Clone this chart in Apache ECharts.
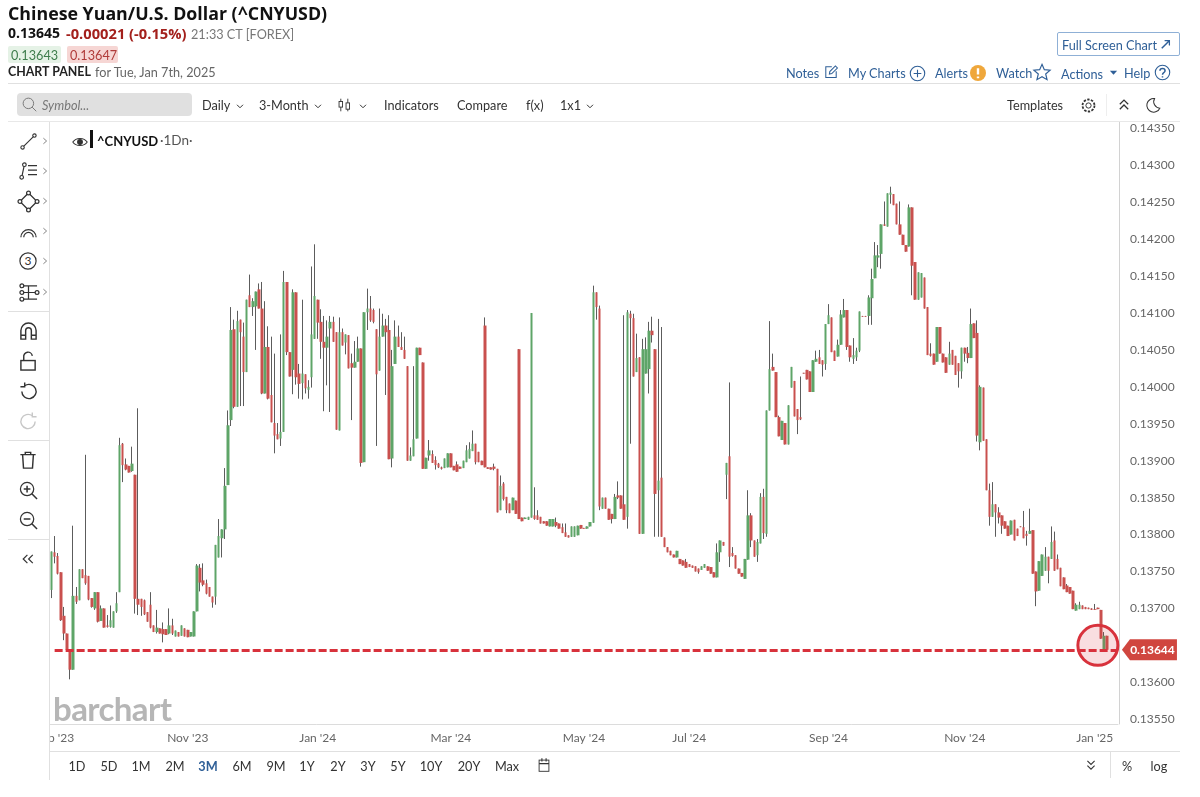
<!DOCTYPE html>
<html>
<head>
<meta charset="utf-8">
<title>Chinese Yuan/U.S. Dollar</title>
<script src="https://cdn.jsdelivr.net/npm/echarts@6/dist/echarts.min.js"></script>
<style>
  html, body { margin: 0; padding: 0; background: #fff; }
  #page { position: relative; width: 1200px; height: 797px; overflow: hidden; font-family: Lato, sans-serif; color: #333; }
  #chart { position: absolute; left: 0; top: 0; width: 1200px; height: 797px; }
  .t { position: absolute; white-space: nowrap; line-height: 1; transform: translateY(-50%); font-size: 12.7px; }
  .c { transform: translate(-50%, -50%); }
  .rule { position: absolute; background: #e0e0e0; }
  svg.i { position: absolute; overflow: visible; fill: none; stroke: #333; stroke-width: 1.3; }
</style>
</head>
<body>
<div id="page">
  <div id="chart"></div>
  <div id="chrome"></div>
</div>
<script>
'use strict';

// prices are in 1/100000 of a dollar, each row is [open, close, low, high]
var sepOct23 = [
  [13725,13777,13714,13777],[13776,13770,13761,13798],[13771,13747,13746,13775],[13749,13684,13683,13749],
  [13690,13666,13657,13702],[13666,13644,13644,13666],[13643,13617,13604,13643],[13617,13717,13617,13812],
  [13717,13709,13706,13729],[13711,13753,13711,13753],[13753,13741,13741,13753],[13745,13734,13732,13908],
  [13744,13712,13711,13744],[13714,13702,13701,13714],[13700,13722,13698,13722],[13722,13682,13681,13722],
  [13683,13700,13683,13704],[13700,13674,13674,13700],[13677,13675,13674,13691],[13675,13684,13674,13704],
  [13674,13696,13674,13696],[13696,13707,13694,13722],[13722,13921,13722,13931],[13923,13894,13871,13924],
  [13895,13888,13887,13903],[13893,13884,13884,13893],[13886,13896,13885,13919],[13881,13713,13693,13881],
  [13713,13705,13691,13971],[13713,13702,13690,13713],[13711,13692,13691,13712],[13695,13682,13682,13695],
  [13705,13674,13673,13722],[13677,13668,13668,13677],[13668,13674,13666,13698],[13673,13666,13666,13673],
  [13672,13665,13654,13681],[13672,13664,13664,13672],[13666,13677,13665,13700],[13677,13666,13664,13686],
  [13662,13670,13662,13670],[13668,13662,13662,13668],[13663,13677,13663,13677],[13673,13662,13662,13673]
];
var novDec23 = [
  [13671,13661,13661,13671],[13662,13668,13662,13668],[13662,13696,13662,13696],[13696,13758,13696,13760],
  [13755,13735,13723,13760],[13738,13732,13730,13761],[13734,13720,13719,13739],[13729,13716,13716,13729],
  [13716,13708,13701,13716],[13716,13786,13705,13786],[13769,13798,13769,13821],[13795,13807,13769,13807],
  [13807,13866,13794,13890],[13867,13948,13867,13968],[13955,14077,13947,14108],[14078,13973,13971,14091],
  [13973,14089,13973,14103],[14091,14074,13974,14091],[14068,14020,13974,14087],[14020,14118,14020,14118],
  [14124,14108,14108,14152],[14108,14116,14096,14120],[14109,14129,14050,14129],[14132,14106,14106,14140],
  [14106,13991,13990,14142],[13991,14054,13991,14116],[14054,13984,13983,14082],[13989,13952,13952,14068],
  [13951,13934,13910,14045],[13936,13929,13929,13951],[13930,13939,13920,14071],[13939,14142,13939,14157],
  [14142,14047,14043,14142],[14047,14014,14014,14047],[14023,14128,13990,14132],[14128,14013,14003,14128],
  [14018,14004,13984,14031],[14005,14018,13983,14118],[14017,13998,13991,14017],[13996,14000,13984,14009],
  [14013,14071,13999,14163],[14065,14123,14065,14193]
];
var janFeb24 = [
  [14118,14087,14065,14118],[14088,14061,14038,14105],[14061,14053,13967,14096],[14053,14068,14002,14090],
  [14079,14088,13966,14096],[14088,14061,14061,14095],[14074,13942,13942,14074],[13941,14074,13941,14094],
  [14074,14056,14056,14079],[14060,14071,14044,14071],[14070,14025,14025,14070],[14032,14026,13955,14045],
  [14026,14034,14026,14062],[14034,14052,14034,14068],[14052,13897,13892,14052],[13898,14101,13898,14101],
  [14101,14106,14077,14133],[14106,14090,14088,14123],[14104,14088,14086,14106],[14078,14017,13920,14078],
  [14022,14068,14022,14106],[14068,14083,14068,14099],[14083,14074,13989,14092],[14077,13902,13902,14097],
  [13903,14028,13891,14050],[14031,14068,14031,14090],[14068,14054,14054,14083],[14054,14050,14050,14074],
  [14050,14038,14038,14068],[14028,13900,13900,14028],[13900,13907,13900,13918],[13906,13929,13906,14028],
  [13930,14053,13930,14053],[14053,14043,14043,14053],[14033,13889,13889,14033],[13889,13904,13889,13904],
  [13907,13914,13900,13928],[13909,13897,13897,13914],[13901,13894,13888,13906],[13896,13891,13890,13897],
  [13891,13889,13888,13892],[13890,13903,13890,13903],[13891,13910,13891,13910]
];
var marApr24 = [
  [13910,13891,13891,13910],[13893,13887,13887,13893],[13895,13885,13885,13899],[13892,13889,13889,13892],
  [13890,13900,13890,13900],[13898,13914,13898,13921],[13903,13916,13903,13925],[13913,13923,13913,13941],
  [13923,13898,13895,13923],[13912,13898,13898,13912],[13900,13894,13894,13900],[14083,13891,13891,14094],
  [13891,13889,13889,13891],[13891,13888,13888,13891],[13892,13889,13887,13896],[13889,13830,13830,13889],
  [13833,13866,13833,13880],[13869,13848,13846,13871],[13851,13833,13829,13851],[13842,13829,13829,13842],
  [13833,13850,13833,13850],[13846,13828,13828,13846],[14051,13821,13821,14051],[13823,13818,13818,13823],
  [13821,13823,13821,13823],[13820,13824,13820,13824],[13823,14100,13823,14100],[13826,13821,13820,13864],
  [13826,13820,13820,13833],[13824,13815,13815,13824],[13818,13815,13815,13818],[13818,13812,13812,13818],
  [13811,13821,13811,13821],[13811,13821,13811,13821],[13817,13812,13810,13823],[13815,13808,13808,13815],
  [13810,13802,13802,13815],[13803,13797,13797,13815],[13799,13796,13796,13799],[13797,13811,13797,13811],
  [13797,13811,13797,13811],[13799,13812,13799,13812],[13813,13808,13808,13813]
];
var mayJun24 = [
  [13809,13808,13808,13809],[13808,13811,13808,13811],[13811,13817,13811,13817],[13816,14128,13816,14137],
  [14128,14108,14091,14128],[14106,13838,13833,14110],[13835,13850,13835,13850],[13850,13835,13835,13850],
  [13835,13820,13820,13835],[13828,13821,13815,13828],[13821,13851,13821,13855],[13853,13850,13848,13872],
  [13853,13835,13835,13853],[13841,13820,13820,14097],[13824,14101,13808,14104],[14099,14093,13923,14103],
  [14093,14014,14014,14099],[14020,14039,14020,14072],[14040,13801,13801,14040],[13801,14051,13801,14065],
  [14018,14051,14018,14067],[14024,14076,13991,14088],[14076,14070,14060,14095],[14051,13855,13797,14051],
  [13860,13873,13797,14092],[13877,13797,13797,14081],[13796,13783,13783,13796],[13783,13776,13776,13783],
  [13778,13772,13772,13778],[13773,13769,13769,13773],[13769,13778,13769,13778],[13767,13760,13760,13767],
  [13765,13758,13758,13765],[13763,13755,13755,13767]
];
var julAug24 = [
  [13760,13756,13756,13760],[13758,13755,13755,13758],[13757,13750,13750,13757],[13754,13749,13747,13754],
  [13752,13757,13752,13757],[13755,13760,13755,13760],[13757,13751,13751,13757],[13756,13747,13747,13756],
  [13749,13742,13742,13749],[13742,13776,13742,13788],[13776,13792,13763,13792],[13790,13785,13785,13790],
  [13881,13897,13848,13897],[13906,13770,13756,14006],[13775,13771,13770,13783],[13772,13754,13754,13772],
  [13754,13747,13747,13754],[13748,13743,13743,13748],[13740,13767,13740,13767],[13766,13826,13766,13860],
  [13826,13792,13783,13829],[13792,13770,13770,13792],[13772,13790,13763,13794],[13788,13851,13788,13856],
  [13851,13802,13794,13862],[13801,13968,13797,13968],[13968,14024,13968,14089],[14027,14022,14022,14045],
  [14020,13959,13959,14020],[13959,13933,13933,13961],[13928,13954,13928,13954],[13951,13922,13922,13951],
  [13922,13975,13922,13975],[13999,14027,13999,14027],[14008,13960,13960,14008],[13970,13955,13936,13970],
  [13959,13956,13955,14014],[14019,14018,14018,14019],[14023,14010,14010,14023],[14021,13993,13993,14021],
  [13993,14036,13993,14036],[14034,14038,14034,14049],[14040,14031,14031,14050],[14036,14030,14014,14036],
  [14031,14085,14023,14085]
];
var sepOct24 = [
  [14085,14097,14085,14112],[14094,14047,14047,14094],[14049,14035,14035,14049],[14041,14057,14041,14064],
  [14057,14098,14057,14104],[14094,14104,14094,14119],[14104,14054,14050,14104],[14056,14040,14034,14056],
  [14038,14043,14031,14066],[14040,14049,14035,14053],[14049,14102,14047,14102],[14096,14095,14095,14096],
  [14096,14095,14095,14096],[14096,14121,14084,14124],[14120,14146,14084,14160],[14147,14178,14147,14196],
  [14175,14178,14162,14192],[14180,14220,14160,14220],[14220,14218,14218,14251],[14217,14262,14217,14262],
  [14260,14263,14248,14271],[14261,14246,14246,14261],[14248,14220,14220,14248],[14220,14206,14206,14251],
  [14206,14192,14192,14206],[14192,14183,14183,14192],[14190,14243,14190,14247],[14243,14164,14124,14243],
  [14169,14118,14118,14169],[14118,14155,14118,14155],[14121,14154,14121,14154],[14148,14106,14106,14148],
  [14108,14043,14043,14108],[14045,14042,14041,14059],[14045,14030,14030,14045],[14034,14081,14034,14081],
  [14081,14045,14045,14081],[14045,14033,14033,14045],[14040,14019,14019,14040],[14030,14045,14030,14061],
  [14050,14030,14030,14050],[14042,14016,14016,14042],[14032,14021,13999,14032],[14021,14053,14011,14053]
];
var novDec24 = [
  [14053,14045,14034,14053],[14046,14039,14032,14054],[14039,14085,14039,14106],[14086,14066,14066,14086],
  [14073,13934,13926,14090],[13925,14000,13914,14002],[13999,13927,13927,13999],[13929,13860,13860,13929],
  [13860,13824,13812,13869],[13824,13841,13824,13871],[13841,13830,13797,13841],[13830,13823,13815,13837],
  [13826,13812,13801,13826],[13818,13808,13808,13818],[13812,13798,13798,13812],[13800,13819,13800,13819],
  [13820,13792,13792,13820],[13808,13798,13798,13808],[13811,13810,13810,13811],[13810,13795,13795,13832],
  [13801,13798,13785,13805],[13801,13805,13801,13835],[13806,13747,13747,13806],[13750,13723,13703,13750],
  [13724,13764,13724,13764],[13744,13773,13744,13773],[13751,13770,13751,13783],[13770,13751,13734,13770],
  [13767,13790,13767,13811],[13792,13751,13751,13804],[13767,13753,13753,13773],[13755,13730,13730,13755],
  [13742,13726,13726,13742],[13731,13722,13722,13733],[13729,13720,13720,13729],[13724,13699,13699,13724],
  [13697,13705,13697,13707],[13699,13705,13699,13709],[13704,13699,13699,13704],[13702,13699,13699,13702],
  [13701,13699,13699,13701],[13700,13698,13698,13700]
];
var jan25 = [
  [13699,13698,13698,13706],[13701,13699,13699,13701],[13698,13659,13659,13698],[13641,13663,13641,13668],
  [13663,13644,13641,13663]
];

var tickLabels = ["Sep '23", "Nov '23", "Jan '24", "Mar '24", "May '24", "Jul '24", "Sep '24", "Nov '24", "Jan '25"];
var tickBars = [1, 44, 86, 129, 172, 206, 251, 295, 337];
var priceTicks = [0.1355, 0.136, 0.1365, 0.137, 0.1375, 0.138, 0.1385, 0.139, 0.1395, 0.14, 0.1405, 0.141, 0.1415, 0.142, 0.1425, 0.143, 0.1435];
var lastPrice = 0.13644;
var rangeButtons = ['1D', '5D', '1M', '2M', '3M', '6M', '9M', '1Y', '2Y', '3Y', '5Y', '10Y', '20Y', 'Max'];

var candles = sepOct23.concat(novDec23, janFeb24, marApr24, mayJun24, julAug24, sepOct24, novDec24, jan25);
var emptyBars = 3;

var categories = [];
for (var i = 0; i < candles.length + emptyBars; i++) {
  var at = tickBars.indexOf(i);
  categories.push(at >= 0 ? tickLabels[at] : '');
}

function toPrice(v) { return v / 100000; }

// wicks and bodies are two series because the wick is grey on every candle
var wicks = candles.map(function (r) {
  return [toPrice(r[0]), toPrice(r[1]), toPrice(r[2]), toPrice(r[3])];
});
var bodies = candles.map(function (r) {
  var lo = Math.min(r[0], r[1]), hi = Math.max(r[0], r[1]);
  return [toPrice(r[0]), toPrice(r[1]), toPrice(lo), toPrice(hi)];
});

var GREEN = '#5ea568', RED = '#c9504e', LINE_RED = '#d8323c';

var myChart = echarts.init(document.getElementById('chart'));
myChart.setOption({
  animation: false,
  textStyle: { fontFamily: 'Lato' },
  grid: { left: 50, right: 82, top: 122, bottom: 73 },
  xAxis: {
    type: 'category',
    data: categories,
    boundaryGap: true,
    axisLine: { lineStyle: { color: '#dcdcdc' } },
    axisTick: {
      length: 5,
      alignWithLabel: true,
      lineStyle: { color: '#cfcfcf' },
      interval: function (idx) { return tickBars.indexOf(idx) >= 0; }
    },
    axisLabel: {
      color: '#666',
      fontSize: 12,
      margin: 8,
      hideOverlap: false,
      interval: function (idx) { return tickBars.indexOf(idx) >= 0; }
    },
    splitLine: { show: false }
  },
  yAxis: {
    type: 'value',
    position: 'right',
    offset: 1,
    scale: true,
    min: 0.135435,
    max: 0.143586,
    axisLine: { show: true, lineStyle: { color: '#d2d2d2', width: 1 } },
    axisTick: { show: false },
    splitLine: { show: false },
    axisLabel: {
      customValues: priceTicks,
      color: '#666',
      fontSize: 12,
      margin: 11,
      formatter: function (v) { return v.toFixed(5); }
    }
  },
  series: [{
    name: 'wick',
    type: 'candlestick',
    data: wicks,
    barWidth: 1,
    itemStyle: { color: '#5c5c5c', color0: '#5c5c5c', borderColor: '#5c5c5c', borderColor0: '#5c5c5c', borderWidth: 1 },
    z: 2
  }, {
    name: '^CNYUSD',
    type: 'candlestick',
    data: bodies,
    barWidth: 3,
    itemStyle: { color: GREEN, color0: RED, borderColor: GREEN, borderColor0: RED, borderWidth: 0 },
    z: 3,
    markLine: {
      silent: true,
      symbol: 'none',
      label: { show: false },
      lineStyle: { color: LINE_RED, width: 3, type: [8, 3] },
      data: [[{ coord: [1, lastPrice] }, { coord: [categories.length - 1, lastPrice] }]],
      z: 4
    },
    markPoint: {
      silent: true,
      data: [{
        coord: [338, 0.1365],
        symbol: 'circle',
        symbolSize: 40,
        itemStyle: { color: 'rgba(216,50,60,0.16)', borderColor: '#d8323c', borderWidth: 3 },
        label: { show: false },
        z: 5
      }, {
        coord: [categories.length - 1, lastPrice],
        symbol: 'path://M0 10L9 0H62V20H9Z',
        symbolKeepAspect: false,
        symbolSize: [55, 21],
        symbolOffset: [33, 0],
        itemStyle: { color: '#d0463f' },
        label: {
          show: true,
          position: 'inside',
          offset: [3, 0],
          formatter: lastPrice.toFixed(5),
          color: '#fff',
          fontFamily: 'Lato',
          fontWeight: 'bold',
          fontSize: 12
        },
        z: 6
      }]
    }
  }]
});

// page furniture around the chart
var chrome = document.getElementById('chrome');

function add(html) { chrome.insertAdjacentHTML('beforeend', html); }
function text(s, x, y, css, centred) {
  add('<div class="t' + (centred ? ' c' : '') + '" style="left:' + x + 'px;top:' + y + 'px;' + (css || '') + '">' + s + '</div>');
}
function rule(x, y, w, h, colour) {
  add('<div class="rule" style="left:' + x + 'px;top:' + y + 'px;width:' + w + 'px;height:' + h + 'px;' + (colour ? 'background:' + colour : '') + '"></div>');
}
function icon(x, y, size, body, css) {
  add('<svg class="i" viewBox="0 0 20 20" width="' + size + '" height="' + size + '" style="left:' + (x - size / 2) + 'px;top:' + (y - size / 2) + 'px;' + (css || '') + '">' + body + '</svg>');
}
function chevron(x, y) {
  icon(x, y, 10, '<path d="M4 7.5 10 13.5 16 7.5" stroke-width="2"/>');
}

// cover left of the plot, the Sep '23 label runs under it
rule(0, 122, 49, 675, '#fff');
rule(49, 122, 1, 658);

// header
var HEAD = "font-family:'Open Sans',sans-serif;";
text('Chinese Yuan/U.S. Dollar (^CNYUSD)', 8, 14, HEAD + 'font-size:17.8px;font-weight:700;color:#111;');
text('0.13645', 8, 33, HEAD + 'font-size:14px;font-weight:700;color:#111;');
text('-0.00021 (-0.15%)', 66, 33, HEAD + 'font-size:14.7px;font-weight:700;color:#a3201c;');
text('21:33 CT [FOREX]', 191, 33.5, 'font-size:12.7px;color:#777;');
add('<div style="position:absolute;left:8px;top:46px;width:53px;height:17px;background:#e5f2e6;border-radius:2px"></div>');
add('<div style="position:absolute;left:67px;top:46px;width:51px;height:17px;background:#f6d6d4;border-radius:2px"></div>');
text('0.13643', 11, 54.5, 'color:#3f7d4d;');
text('0.13647', 70, 54.5, 'color:#b03c3a;');
text('CHART PANEL', 8, 72, 'font-size:12.4px;font-weight:700;color:#222;');
text('for Tue, Jan 7th, 2025', 95, 72, 'color:#666;');
rule(8, 83, 1172, 1);

add('<div style="position:absolute;left:1057px;top:32px;width:121px;height:22px;border:1px solid #8fb0d6;border-radius:2px"></div>');
text('Full Screen Chart', 1062, 44.5, 'color:#2f5f97;');
text('&#8599;', 1166, 44, 'font-size:13px;color:#2f5f97;font-weight:700;', true);

var BLUE = 'stroke:#2f5f97;';
text('Notes', 786, 73, 'color:#2f5f97;');
icon(831, 72, 16, '<path d="M11 3.5H3.5V17H16.5V9M8 12.5 8.5 9.5 15.5 2.5 18 5 11 12Z"/>', BLUE);
text('My Charts', 848, 73, 'color:#2f5f97;');
icon(917, 73, 17, '<circle cx="10" cy="10" r="8.5"/><path d="M10 5.5V14.5M5.5 10H14.5"/>', BLUE);
text('Alerts', 935, 73, 'color:#2f5f97;');
icon(978, 73, 16, '<circle cx="10" cy="10" r="10" fill="#efa73b" stroke="none"/><path d="M10 4V12M10 14.5V16.5" stroke="#fff" stroke-width="3"/>');
text('Watch', 996, 73, 'color:#2f5f97;');
icon(1042, 72, 18, '<path d="M10 1.5 12.6 7.4 19 8 14.1 12.2 15.6 18.5 10 15.2 4.4 18.5 5.9 12.2 1 8 7.4 7.4Z"/>', BLUE);
text('Actions', 1061, 73.5, 'color:#2f5f97;');
icon(1113, 72, 9, '<path d="M2 6H18L10 15Z" fill="#2f5f97" stroke="none"/>');
text('Help', 1124, 73, 'color:#2f5f97;');
icon(1162, 72, 17, '<circle cx="10" cy="10" r="8.5"/><path d="M7 8C7 4.5 13 4.5 13 8 13 10.5 10 10 10 12.5M10 14.5V16" stroke-width="1.8"/>', BLUE);

// toolbar
add('<div style="position:absolute;left:17px;top:93px;width:175px;height:23px;background:#e0e0e0;border-radius:4px"></div>');
icon(29, 104, 15, '<circle cx="8.5" cy="8.5" r="7"/><path d="M13.5 13.5 19 19"/>', 'stroke:#777;');
text('Symbol...', 42, 105, 'font-style:italic;color:#777;');
text('Daily', 202, 105);
chevron(240, 106);
text('3-Month', 259, 105);
chevron(318, 106);
icon(345, 105, 14, '<path d="M4 1V19M14 1V19"/><rect x="1.5" y="5" width="5" height="8" fill="#fff"/><rect x="11.5" y="7" width="5" height="9" fill="#fff"/>');
chevron(363, 106);
text('Indicators', 384, 105);
text('Compare', 457, 105);
text('f(x)', 526, 105);
text('1x1', 560, 105);
chevron(590, 106);
text('Templates', 1007, 105);
icon(1088, 105, 15, '<circle cx="10" cy="10" r="3.5"/><circle cx="10" cy="10" r="8" stroke-width="2.4" stroke-dasharray="3.2 1.8"/>');
rule(1106, 94, 1, 22, '#eee');
icon(1124, 105, 14, '<path d="M4 9 10 3 16 9M4 16 10 10 16 16" stroke-width="1.8"/>');
icon(1153, 105, 16, '<path d="M12 2A8.5 8.5 0 1 0 18.5 14 8 8 0 0 1 12 2Z"/>');
rule(8, 121, 1172, 1, '#e8e8e8');

// drawing tools
function sideChevron(y) { icon(45, y, 8, '<path d="M6 3 14 10 6 17" stroke-width="2" />', 'stroke:#666;'); }
var nodes = function (pts) {
  return pts.map(function (p) { return '<circle cx="' + p[0] + '" cy="' + p[1] + '" r="2" fill="#fff"/>'; }).join('');
};
icon(28, 141, 17, '<path d="M3 17 17 3"/>' + nodes([[3, 17], [17, 3]]));
icon(28, 171, 18, '<path d="M3 17 6 3M10 4H20M10 9H20M10 14H20"/>' + nodes([[3, 17], [6, 3]]));
icon(28, 201, 19, '<path d="M10 1 19 10 10 19 1 10Z"/>' + nodes([[10, 1], [19, 10], [10, 19], [1, 10]]));
icon(28, 231, 19, '<path d="M2 16A8 8 0 0 1 18 16M5 16A5 5 0 0 1 15 16"/>');
icon(28, 261, 18, '<circle cx="10" cy="10" r="9"/>');
text('3', 28, 261, 'font-size:12px;', true);
icon(28, 292, 19, '<path d="M3 3H19M3 10H19M3 17H19M10 3V17"/>' + nodes([[3, 3], [3, 10], [3, 17], [19, 10]]));
[141, 171, 201, 231, 261, 292].forEach(sideChevron);
rule(8, 311, 41, 1);
icon(28, 331, 19, '<path d="M2 18V9A8 8 0 0 1 18 9V18H13V9A3 3 0 0 0 7 9V18ZM2 14H7M13 14H18" stroke-width="1.5"/>');
icon(28, 361, 19, '<rect x="2" y="9" width="15" height="10"/><path d="M5 9V5.5A4.5 4.5 0 0 1 14 4"/>', 'stroke-width:1.5;');
icon(28, 391, 19, '<path d="M3 10A7.5 7.5 0 1 0 6 4M6 0.5V5H1.5" stroke-width="1.5"/>');
icon(28, 421, 19, '<path d="M17 10A7.5 7.5 0 1 1 14 4M14 0.5V5H18.5" stroke-width="1.5"/>', 'stroke:#c8c8c8;');
rule(8, 440, 41, 1);
icon(28, 460, 18, '<path d="M1.5 4H18.5M7 4V1.5H13V4M4 4 5 19H15L16 4" stroke-width="1.6"/>');
icon(28, 490, 19, '<circle cx="8.5" cy="8.5" r="7"/><path d="M13.5 13.5 19 19M8.5 5V12M5 8.5H12" stroke-width="1.6"/>');
icon(28, 520, 19, '<circle cx="8.5" cy="8.5" r="7"/><path d="M13.5 13.5 19 19M5 8.5H12" stroke-width="1.6"/>');
rule(8, 539, 41, 1);
icon(28, 559, 12, '<path d="M9 3 2 10 9 17M18 3 11 10 18 17" stroke-width="2"/>');

// watermark and legend
text('barchart', 53, 708, "font-family:Lato,sans-serif;font-size:33px;font-weight:700;color:#b6b6b6;letter-spacing:-0.6px;");
icon(80, 142, 16, '<path d="M1 10C5 4 15 4 19 10 15 16 5 16 1 10Z"/><circle cx="10" cy="10" r="3" fill="#333"/>');
rule(90, 130, 3, 18, '#111');
text('^CNYUSD', 97, 140.5, 'font-size:13px;font-weight:700;color:#111;');
text('&middot;1Dn&middot;', 160, 140.5, 'font-size:13.5px;color:#555;');

// bottom bar
rule(50, 751, 1130, 1);
var rangeX = [77, 109, 141, 175, 208, 242, 276, 307, 338, 368, 398, 431, 469, 507];
rangeButtons.forEach(function (label, n) {
  text(label, rangeX[n], 766, label === '3M' ? 'color:#2f5f97;font-weight:700;' : '', true);
});
icon(544, 765, 14, '<rect x="3" y="3" width="14" height="16"/><path d="M3 8H17M7 0.5V5M13 0.5V5" stroke-width="1.6"/>');
icon(1091, 765, 12, '<path d="M4 3 10 9 16 3M4 11 10 17 16 11" stroke-width="1.8"/>');
rule(1110, 752, 1, 26);
text('%', 1127, 766, '', true);
text('log', 1159, 766, '', true);
</script>
</body>
</html>
